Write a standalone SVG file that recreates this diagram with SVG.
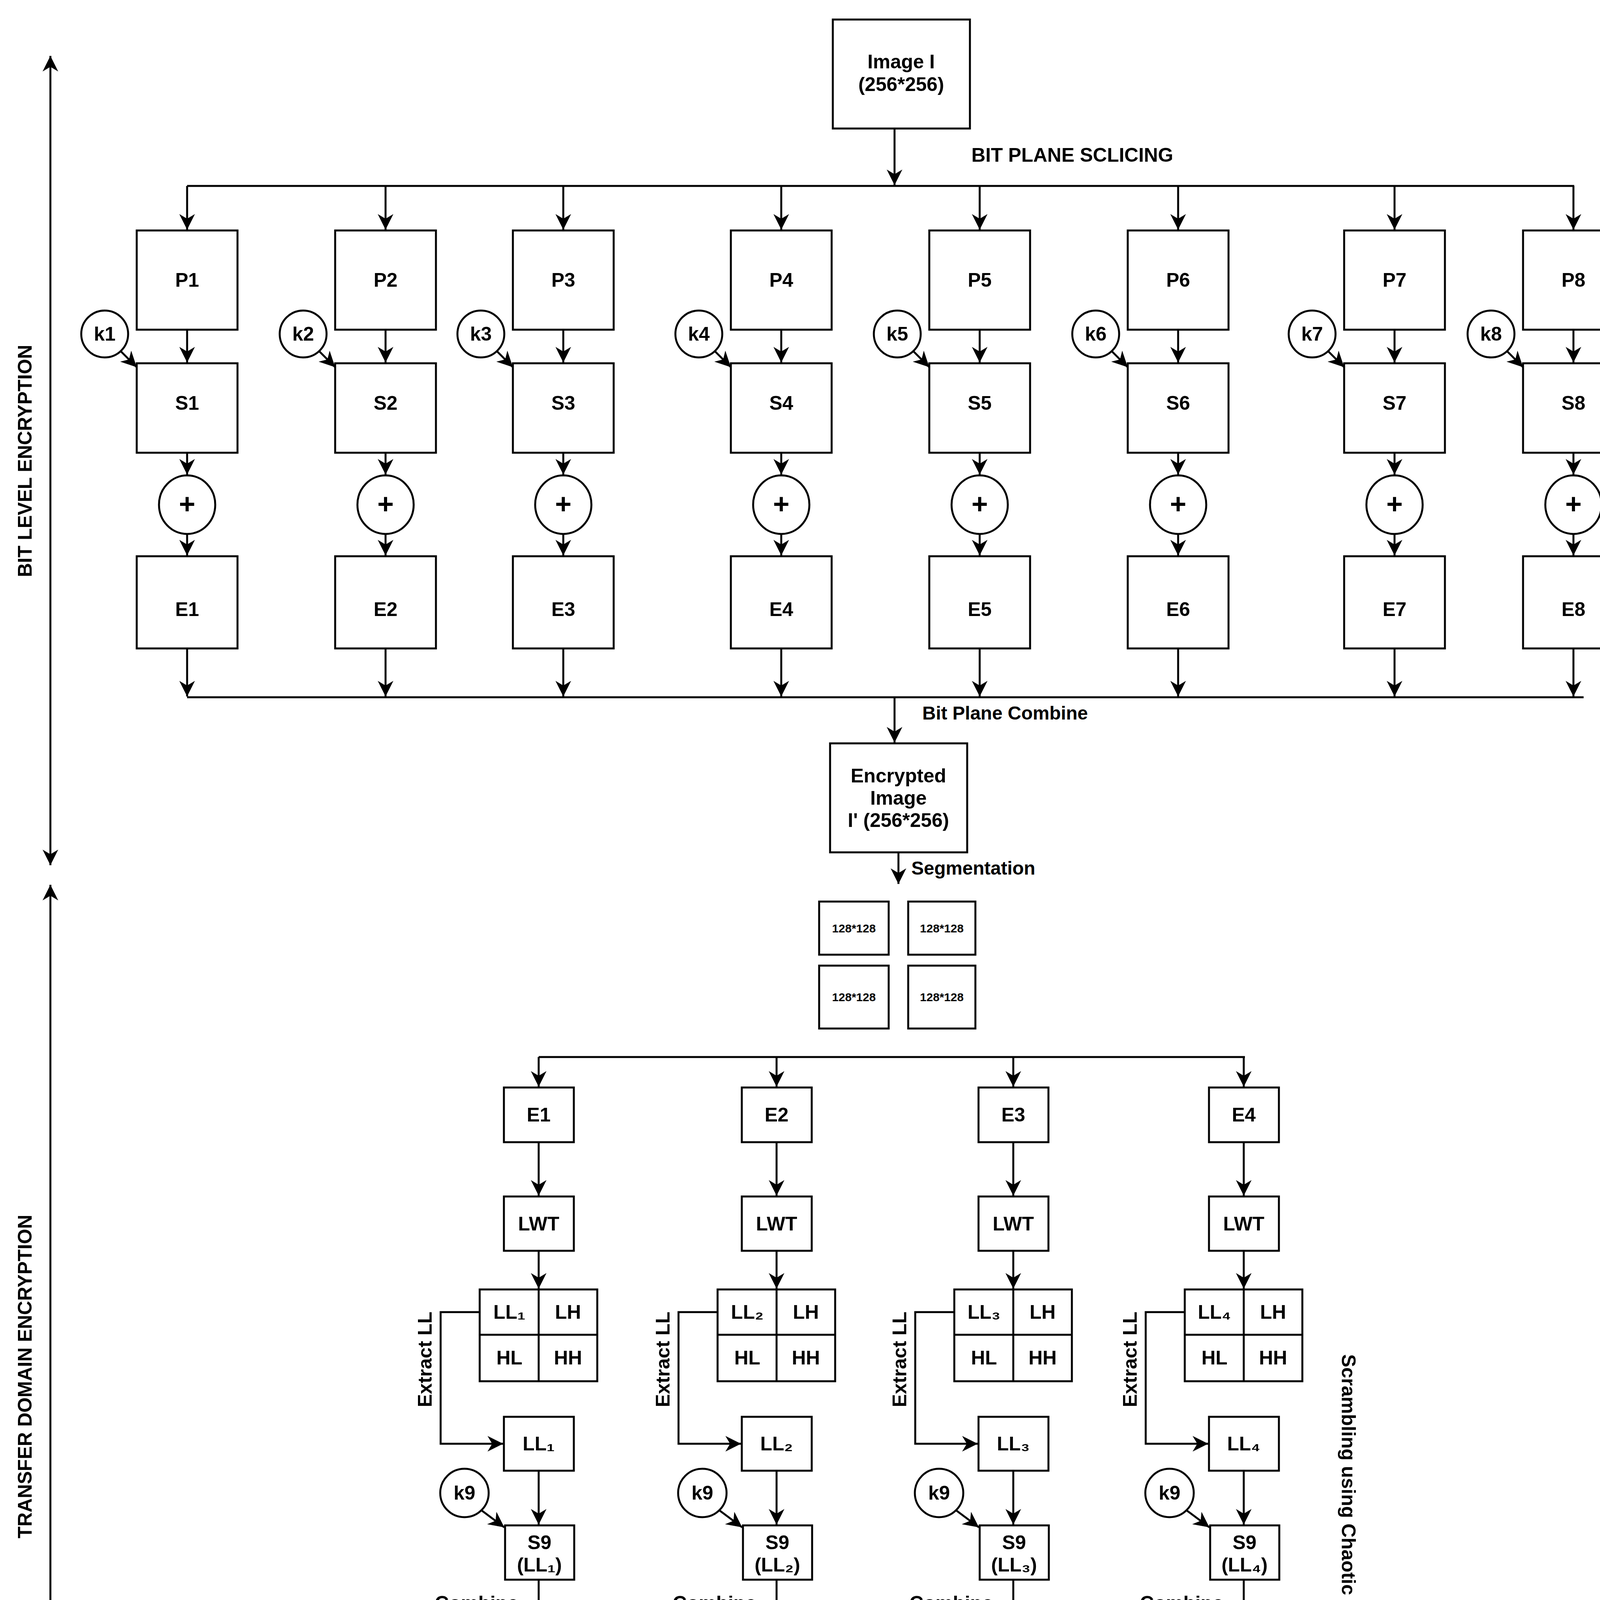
<svg xmlns="http://www.w3.org/2000/svg" width="4293" height="5624" viewBox="0 0 4293 5624">
<defs>
<marker id="b" viewBox="0 0 10 10" refX="10" refY="5" markerWidth="40" markerHeight="40" orient="auto-start-reverse" markerUnits="userSpaceOnUse"><path d="M0,0 L10,5 L0,10 L3,5 z" fill="#000"/></marker>
<style>
text{font-family:"Liberation Sans",Arial,sans-serif;font-weight:bold;fill:#000;text-anchor:middle;dominant-baseline:central}
.t{font-size:50px}.s{font-size:30px}.l{font-size:48px;text-anchor:start}.p{font-size:72px}
rect,circle,ellipse{fill:#fff;stroke:#000;stroke-width:5}
.c path,.c line{fill:none;stroke:#000;stroke-width:5;marker-end:url(#b)}
.c .n{marker-end:none}
.c .d{marker-start:url(#b)}
</style>
</defs>
<rect x="0" y="0" width="4293" height="5624" style="stroke:none"/>
<g class="c" id="connectors">
<line x1="2290" y1="329" x2="2290" y2="474"/>
<line class="n" x1="479" y1="476" x2="4030" y2="476"/>
<line x1="479" y1="476" x2="479" y2="588"/><line x1="987" y1="476" x2="987" y2="588"/><line x1="1442" y1="476" x2="1442" y2="588"/><line x1="2000" y1="476" x2="2000" y2="588"/><line x1="2508" y1="476" x2="2508" y2="588"/><line x1="3016" y1="476" x2="3016" y2="588"/><line x1="3570" y1="476" x2="3570" y2="588"/><line x1="4028" y1="476" x2="4028" y2="588"/>
<line x1="479" y1="844" x2="479" y2="928"/><line x1="987" y1="844" x2="987" y2="928"/><line x1="1442" y1="844" x2="1442" y2="928"/><line x1="2000" y1="844" x2="2000" y2="928"/><line x1="2508" y1="844" x2="2508" y2="928"/><line x1="3016" y1="844" x2="3016" y2="928"/><line x1="3570" y1="844" x2="3570" y2="928"/><line x1="4028" y1="844" x2="4028" y2="928"/>
<line x1="310" y1="900" x2="350" y2="940"/><line x1="818" y1="900" x2="858" y2="940"/><line x1="1273" y1="900" x2="1313" y2="940"/><line x1="1831" y1="900" x2="1871" y2="940"/><line x1="2339" y1="900" x2="2379" y2="940"/><line x1="2847" y1="900" x2="2887" y2="940"/><line x1="3401" y1="900" x2="3441" y2="940"/><line x1="3859" y1="900" x2="3899" y2="940"/>
<line x1="479" y1="1159" x2="479" y2="1215"/><line x1="987" y1="1159" x2="987" y2="1215"/><line x1="1442" y1="1159" x2="1442" y2="1215"/><line x1="2000" y1="1159" x2="2000" y2="1215"/><line x1="2508" y1="1159" x2="2508" y2="1215"/><line x1="3016" y1="1159" x2="3016" y2="1215"/><line x1="3570" y1="1159" x2="3570" y2="1215"/><line x1="4028" y1="1159" x2="4028" y2="1215"/>
<line x1="479" y1="1367" x2="479" y2="1422"/><line x1="987" y1="1367" x2="987" y2="1422"/><line x1="1442" y1="1367" x2="1442" y2="1422"/><line x1="2000" y1="1367" x2="2000" y2="1422"/><line x1="2508" y1="1367" x2="2508" y2="1422"/><line x1="3016" y1="1367" x2="3016" y2="1422"/><line x1="3570" y1="1367" x2="3570" y2="1422"/><line x1="4028" y1="1367" x2="4028" y2="1422"/>
<line x1="479" y1="1660" x2="479" y2="1783"/><line x1="987" y1="1660" x2="987" y2="1783"/><line x1="1442" y1="1660" x2="1442" y2="1783"/><line x1="2000" y1="1660" x2="2000" y2="1783"/><line x1="2508" y1="1660" x2="2508" y2="1783"/><line x1="3016" y1="1660" x2="3016" y2="1783"/><line x1="3570" y1="1660" x2="3570" y2="1783"/><line x1="4028" y1="1660" x2="4028" y2="1783"/>
<line class="n" x1="479" y1="1785" x2="4054" y2="1785"/>
<line x1="2290" y1="1785" x2="2290" y2="1901"/>
<line x1="2300" y1="2182" x2="2300" y2="2263"/>
<line class="n" x1="1379" y1="2706" x2="3187" y2="2706"/>
<line x1="1379" y1="2706" x2="1379" y2="2782"/><line x1="1988" y1="2706" x2="1988" y2="2782"/><line x1="2594" y1="2706" x2="2594" y2="2782"/><line x1="3184" y1="2706" x2="3184" y2="2782"/>
<line x1="1379" y1="2924" x2="1379" y2="3061"/><line x1="1988" y1="2924" x2="1988" y2="3061"/><line x1="2594" y1="2924" x2="2594" y2="3061"/><line x1="3184" y1="2924" x2="3184" y2="3061"/>
<line x1="1379" y1="3202" x2="1379" y2="3299"/><line x1="1988" y1="3202" x2="1988" y2="3299"/><line x1="2594" y1="3202" x2="2594" y2="3299"/><line x1="3184" y1="3202" x2="3184" y2="3299"/>
<path d="M1228,3359H1128V3696H1288"/><path d="M1837,3359H1737V3696H1897"/><path d="M2443,3359H2343V3696H2503"/><path d="M3033,3359H2933V3696H3093"/>
<line x1="1379" y1="3765" x2="1379" y2="3903"/><line x1="1988" y1="3765" x2="1988" y2="3903"/><line x1="2594" y1="3765" x2="2594" y2="3903"/><line x1="3184" y1="3765" x2="3184" y2="3903"/>
<line x1="1232" y1="3866" x2="1291" y2="3910"/><line x1="1841" y1="3866" x2="1900" y2="3910"/><line x1="2447" y1="3866" x2="2506" y2="3910"/><line x1="3037" y1="3866" x2="3096" y2="3910"/>
<line x1="1379" y1="4044" x2="1379" y2="4142"/><line x1="1988" y1="4044" x2="1988" y2="4142"/><line x1="2594" y1="4044" x2="2594" y2="4142"/><line x1="3184" y1="4044" x2="3184" y2="4142"/>
<line x1="1379" y1="4377" x2="1379" y2="4496"/><line x1="1988" y1="4377" x2="1988" y2="4496"/><line x1="2594" y1="4377" x2="2594" y2="4496"/><line x1="3184" y1="4377" x2="3184" y2="4496"/>
<path d="M1374,4637V4800H1969"/><path d="M1986,4637V4725H2136V4760"/><path d="M2587,4637V4725H2405V4760"/><path d="M3155,4637V4800H2578"/>
<line x1="2275" y1="4837" x2="2275" y2="4918"/>
<line x1="1900" y1="4955" x2="1962" y2="4962"/>
<line x1="2275" y1="4995" x2="2275" y2="5079"/>
<line x1="2275" y1="5156" x2="2275" y2="5283"/>
<line class="d" x1="129" y1="143" x2="129" y2="2215"/>
<line class="d" x1="129" y1="2265" x2="129" y2="4783"/>
</g>
<g id="image"><rect x="2132" y="50" width="351" height="279"/><text class="t" x="2307" y="158">Image I</text><text class="t" x="2307" y="216">(256*256)</text></g>
<text class="t" x="2745" y="397">BIT PLANE SCLICING</text>
<g id="p1"><rect x="350" y="590" width="258" height="254"/><text class="t" x="479" y="717">P1</text></g>
<g id="p2"><rect x="858" y="590" width="258" height="254"/><text class="t" x="987" y="717">P2</text></g>
<g id="p3"><rect x="1313" y="590" width="258" height="254"/><text class="t" x="1442" y="717">P3</text></g>
<g id="p4"><rect x="1871" y="590" width="258" height="254"/><text class="t" x="2000" y="717">P4</text></g>
<g id="p5"><rect x="2379" y="590" width="258" height="254"/><text class="t" x="2508" y="717">P5</text></g>
<g id="p6"><rect x="2887" y="590" width="258" height="254"/><text class="t" x="3016" y="717">P6</text></g>
<g id="p7"><rect x="3441" y="590" width="258" height="254"/><text class="t" x="3570" y="717">P7</text></g>
<g id="p8"><rect x="3899" y="590" width="258" height="254"/><text class="t" x="4028" y="717">P8</text></g>
<g id="k1"><circle cx="268" cy="855" r="60"/><text class="t" x="268" y="855">k1</text></g>
<g id="k2"><circle cx="776" cy="855" r="60"/><text class="t" x="776" y="855">k2</text></g>
<g id="k3"><circle cx="1231" cy="855" r="60"/><text class="t" x="1231" y="855">k3</text></g>
<g id="k4"><circle cx="1789" cy="855" r="60"/><text class="t" x="1789" y="855">k4</text></g>
<g id="k5"><circle cx="2297" cy="855" r="60"/><text class="t" x="2297" y="855">k5</text></g>
<g id="k6"><circle cx="2805" cy="855" r="60"/><text class="t" x="2805" y="855">k6</text></g>
<g id="k7"><circle cx="3359" cy="855" r="60"/><text class="t" x="3359" y="855">k7</text></g>
<g id="k8"><circle cx="3817" cy="855" r="60"/><text class="t" x="3817" y="855">k8</text></g>
<g id="s1"><rect x="350" y="930" width="258" height="229"/><text class="t" x="479" y="1032">S1</text></g>
<g id="s2"><rect x="858" y="930" width="258" height="229"/><text class="t" x="987" y="1032">S2</text></g>
<g id="s3"><rect x="1313" y="930" width="258" height="229"/><text class="t" x="1442" y="1032">S3</text></g>
<g id="s4"><rect x="1871" y="930" width="258" height="229"/><text class="t" x="2000" y="1032">S4</text></g>
<g id="s5"><rect x="2379" y="930" width="258" height="229"/><text class="t" x="2508" y="1032">S5</text></g>
<g id="s6"><rect x="2887" y="930" width="258" height="229"/><text class="t" x="3016" y="1032">S6</text></g>
<g id="s7"><rect x="3441" y="930" width="258" height="229"/><text class="t" x="3570" y="1032">S7</text></g>
<g id="s8"><rect x="3899" y="930" width="258" height="229"/><text class="t" x="4028" y="1032">S8</text></g>
<g id="x1"><ellipse cx="479" cy="1292" rx="72" ry="75"/><text class="p" x="479" y="1290">+</text></g>
<g id="x2"><ellipse cx="987" cy="1292" rx="72" ry="75"/><text class="p" x="987" y="1290">+</text></g>
<g id="x3"><ellipse cx="1442" cy="1292" rx="72" ry="75"/><text class="p" x="1442" y="1290">+</text></g>
<g id="x4"><ellipse cx="2000" cy="1292" rx="72" ry="75"/><text class="p" x="2000" y="1290">+</text></g>
<g id="x5"><ellipse cx="2508" cy="1292" rx="72" ry="75"/><text class="p" x="2508" y="1290">+</text></g>
<g id="x6"><ellipse cx="3016" cy="1292" rx="72" ry="75"/><text class="p" x="3016" y="1290">+</text></g>
<g id="x7"><ellipse cx="3570" cy="1292" rx="72" ry="75"/><text class="p" x="3570" y="1290">+</text></g>
<g id="x8"><ellipse cx="4028" cy="1292" rx="72" ry="75"/><text class="p" x="4028" y="1290">+</text></g>
<g id="e1"><rect x="350" y="1424" width="258" height="236"/><text class="t" x="479" y="1560">E1</text></g>
<g id="e2"><rect x="858" y="1424" width="258" height="236"/><text class="t" x="987" y="1560">E2</text></g>
<g id="e3"><rect x="1313" y="1424" width="258" height="236"/><text class="t" x="1442" y="1560">E3</text></g>
<g id="e4"><rect x="1871" y="1424" width="258" height="236"/><text class="t" x="2000" y="1560">E4</text></g>
<g id="e5"><rect x="2379" y="1424" width="258" height="236"/><text class="t" x="2508" y="1560">E5</text></g>
<g id="e6"><rect x="2887" y="1424" width="258" height="236"/><text class="t" x="3016" y="1560">E6</text></g>
<g id="e7"><rect x="3441" y="1424" width="258" height="236"/><text class="t" x="3570" y="1560">E7</text></g>
<g id="e8"><rect x="3899" y="1424" width="258" height="236"/><text class="t" x="4028" y="1560">E8</text></g>
<text class="l" x="2361" y="1825">Bit Plane Combine</text>
<g id="enc"><rect x="2125" y="1903" width="351" height="279"/><text class="t" x="2300" y="1986">Encrypted</text><text class="t" x="2300" y="2043">Image</text><text class="t" x="2300" y="2100">I' (256*256)</text></g>
<text class="l" x="2333" y="2222">Segmentation</text>
<g id="seg1"><rect x="2097" y="2308" width="178" height="136"/><text class="s" x="2186" y="2376">128*128</text></g>
<g id="seg2"><rect x="2325" y="2308" width="172" height="136"/><text class="s" x="2411" y="2376">128*128</text></g>
<g id="seg3"><rect x="2097" y="2472" width="178" height="161"/><text class="s" x="2186" y="2552">128*128</text></g>
<g id="seg4"><rect x="2325" y="2472" width="172" height="161"/><text class="s" x="2411" y="2552">128*128</text></g>
<text class="t" transform="translate(64,1180) rotate(-90)">BIT LEVEL ENCRYPTION</text>
<text class="t" transform="translate(64,3524) rotate(-90)">TRANSFER DOMAIN ENCRYPTION</text>
<text class="t" transform="translate(4222,1030) rotate(90)">Scrambling using Chaotic Maps</text>
<text class="t" transform="translate(3452,3846) rotate(90)">Scrambling using Chaotic Maps</text>
<g id="be1"><rect x="1290" y="2784" width="179" height="140"/><text class="t" x="1379" y="2854">E1</text></g>
<g id="be2"><rect x="1899" y="2784" width="179" height="140"/><text class="t" x="1988" y="2854">E2</text></g>
<g id="be3"><rect x="2505" y="2784" width="179" height="140"/><text class="t" x="2594" y="2854">E3</text></g>
<g id="be4"><rect x="3095" y="2784" width="179" height="140"/><text class="t" x="3184" y="2854">E4</text></g>
<g id="lwt1"><rect x="1290" y="3063" width="179" height="139"/><text class="t" x="1379" y="3133">LWT</text></g>
<g id="lwt2"><rect x="1899" y="3063" width="179" height="139"/><text class="t" x="1988" y="3133">LWT</text></g>
<g id="lwt3"><rect x="2505" y="3063" width="179" height="139"/><text class="t" x="2594" y="3133">LWT</text></g>
<g id="lwt4"><rect x="3095" y="3063" width="179" height="139"/><text class="t" x="3184" y="3133">LWT</text></g>
<g id="g1"><rect x="1228" y="3301" width="301" height="235"/><path d="M1379,3301V3536M1228,3417H1529" stroke="#000" stroke-width="5"/><text class="t" x="1304" y="3359">LL₁</text><text class="t" x="1454" y="3359">LH</text><text class="t" x="1304" y="3476">HL</text><text class="t" x="1454" y="3476">HH</text></g>
<g id="g2"><rect x="1837" y="3301" width="301" height="235"/><path d="M1988,3301V3536M1837,3417H2138" stroke="#000" stroke-width="5"/><text class="t" x="1913" y="3359">LL₂</text><text class="t" x="2063" y="3359">LH</text><text class="t" x="1913" y="3476">HL</text><text class="t" x="2063" y="3476">HH</text></g>
<g id="g3"><rect x="2443" y="3301" width="301" height="235"/><path d="M2594,3301V3536M2443,3417H2744" stroke="#000" stroke-width="5"/><text class="t" x="2519" y="3359">LL₃</text><text class="t" x="2669" y="3359">LH</text><text class="t" x="2519" y="3476">HL</text><text class="t" x="2669" y="3476">HH</text></g>
<g id="g4"><rect x="3033" y="3301" width="301" height="235"/><path d="M3184,3301V3536M3033,3417H3334" stroke="#000" stroke-width="5"/><text class="t" x="3109" y="3359">LL₄</text><text class="t" x="3259" y="3359">LH</text><text class="t" x="3109" y="3476">HL</text><text class="t" x="3259" y="3476">HH</text></g>
<text class="t" transform="translate(1088,3480) rotate(-90)">Extract LL</text>
<text class="t" transform="translate(1697,3480) rotate(-90)">Extract LL</text>
<text class="t" transform="translate(2303,3480) rotate(-90)">Extract LL</text>
<text class="t" transform="translate(2893,3480) rotate(-90)">Extract LL</text>
<g id="ll1"><rect x="1290" y="3627" width="179" height="138"/><text class="t" x="1379" y="3696">LL₁</text></g>
<g id="ll2"><rect x="1899" y="3627" width="179" height="138"/><text class="t" x="1988" y="3696">LL₂</text></g>
<g id="ll3"><rect x="2505" y="3627" width="179" height="138"/><text class="t" x="2594" y="3696">LL₃</text></g>
<g id="ll4"><rect x="3095" y="3627" width="179" height="138"/><text class="t" x="3184" y="3696">LL₄</text></g>
<g id="k9a"><circle cx="1189" cy="3822" r="62"/><text class="t" x="1189" y="3822">k9</text></g>
<g id="k9b"><circle cx="1798" cy="3822" r="62"/><text class="t" x="1798" y="3822">k9</text></g>
<g id="k9c"><circle cx="2404" cy="3822" r="62"/><text class="t" x="2404" y="3822">k9</text></g>
<g id="k9d"><circle cx="2994" cy="3822" r="62"/><text class="t" x="2994" y="3822">k9</text></g>
<g id="s91"><rect x="1293" y="3905" width="177" height="139"/><text class="t" x="1381" y="3949">S9</text><text class="t" x="1381" y="4006">(LL₁)</text></g>
<g id="s92"><rect x="1902" y="3905" width="177" height="139"/><text class="t" x="1990" y="3949">S9</text><text class="t" x="1990" y="4006">(LL₂)</text></g>
<g id="s93"><rect x="2508" y="3905" width="177" height="139"/><text class="t" x="2596" y="3949">S9</text><text class="t" x="2596" y="4006">(LL₃)</text></g>
<g id="s94"><rect x="3098" y="3905" width="177" height="139"/><text class="t" x="3186" y="3949">S9</text><text class="t" x="3186" y="4006">(LL₄)</text></g>
<text class="t" x="1220" y="4104">Combine</text>
<text class="t" x="1829" y="4104">Combine</text>
<text class="t" x="2435" y="4104">Combine</text>
<text class="t" x="3025" y="4104">Combine</text>
<g id="h1"><rect x="1228" y="4144" width="301" height="233"/><path d="M1379,4144V4377M1228,4260H1529" stroke="#000" stroke-width="5"/><text class="t" x="1304" y="4202">LL'₁</text><text class="t" x="1454" y="4202">LH</text><text class="t" x="1304" y="4318">HL</text><text class="t" x="1454" y="4318">HH</text></g>
<g id="h2"><rect x="1837" y="4144" width="301" height="233"/><path d="M1988,4144V4377M1837,4260H2138" stroke="#000" stroke-width="5"/><text class="t" x="1913" y="4202">LL'₂</text><text class="t" x="2063" y="4202">LH</text><text class="t" x="1913" y="4318">HL</text><text class="t" x="2063" y="4318">HH</text></g>
<g id="h3"><rect x="2443" y="4144" width="301" height="233"/><path d="M2594,4144V4377M2443,4260H2744" stroke="#000" stroke-width="5"/><text class="t" x="2519" y="4202">LL'₃</text><text class="t" x="2669" y="4202">LH</text><text class="t" x="2519" y="4318">HL</text><text class="t" x="2669" y="4318">HH</text></g>
<g id="h4"><rect x="3033" y="4144" width="301" height="233"/><path d="M3184,4144V4377M3033,4260H3334" stroke="#000" stroke-width="5"/><text class="t" x="3109" y="4202">LL'₄</text><text class="t" x="3259" y="4202">LH</text><text class="t" x="3109" y="4318">HL</text><text class="t" x="3259" y="4318">HH</text></g>
<g id="ilwt1"><rect x="1286" y="4498" width="176" height="139"/><text class="t" x="1374" y="4567">ILWT</text></g>
<g id="ilwt2"><rect x="1898" y="4498" width="176" height="139"/><text class="t" x="1986" y="4567">ILWT</text></g>
<g id="ilwt3"><rect x="2499" y="4498" width="176" height="139"/><text class="t" x="2587" y="4567">ILWT</text></g>
<g id="ilwt4"><rect x="3067" y="4498" width="176" height="139"/><text class="t" x="3155" y="4567">ILWT</text></g>
<g id="combine"><rect x="1971" y="4762" width="605" height="75"/><text class="t" x="2275" y="4800">COMBINE</text></g>
<g id="k10"><ellipse cx="1860" cy="4902" rx="68" ry="57"/><text class="t" x="1860" y="4902">k10</text></g>
<g id="scr"><rect x="1964" y="4920" width="605" height="75"/><text class="t" x="2267" y="4958">SCRAMBLING</text></g>
<g id="encr"><rect x="1964" y="5081" width="605" height="75"/><text class="t" x="2267" y="5119">ENCRYPTION</text></g>
<g id="final"><rect x="2093" y="5285" width="354" height="286"/><text class="t" x="2270" y="5342">Final</text><text class="t" x="2270" y="5398">Encrypted</text><text class="t" x="2270" y="5454">Image E</text><text class="t" x="2270" y="5510">(256*256)</text></g>
</svg>
